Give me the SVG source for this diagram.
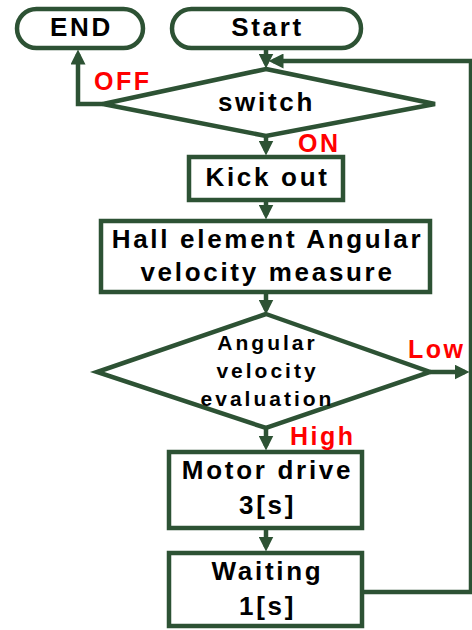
<svg xmlns="http://www.w3.org/2000/svg" width="472" height="630" viewBox="0 0 472 630">
<style>
.sh{fill:#fff;stroke:#2d5234;stroke-width:4.5}
.ln{fill:none;stroke:#2d5234;stroke-width:4.5}
.t{font-family:"Liberation Sans",Arial,sans-serif;font-weight:bold;font-size:26px;letter-spacing:2.7px;fill:#000;text-anchor:middle}
.s{font-size:21px;letter-spacing:3px}
.r{font-family:"Liberation Sans",Arial,sans-serif;font-weight:bold;font-size:25px;letter-spacing:2.5px;fill:#f00}
</style>
<defs>
<marker id="ah" viewBox="0 0 10 10" refX="7" refY="5" markerWidth="15" markerHeight="15" markerUnits="userSpaceOnUse" orient="auto">
<path d="M0,0 L10,5 L0,10 z" fill="#2d5234"/>
</marker>
</defs>
<g id="connectors">
<line class="ln" x1="266" y1="49" x2="266" y2="64" marker-end="url(#ah)"/>
<polyline class="ln" points="362,592 471,592 471,61 273,61" marker-end="url(#ah)"/>
<polyline class="ln" points="103,104 78,104 78,54" marker-end="url(#ah)"/>
<line class="ln" x1="266" y1="136" x2="266" y2="151" marker-end="url(#ah)"/>
<line class="ln" x1="266" y1="200" x2="266" y2="215" marker-end="url(#ah)"/>
<line class="ln" x1="266" y1="292" x2="266" y2="310" marker-end="url(#ah)"/>
<line class="ln" x1="266" y1="428" x2="266" y2="446" marker-end="url(#ah)"/>
<line class="ln" x1="266" y1="528" x2="266" y2="547" marker-end="url(#ah)"/>
<line class="ln" x1="430" y1="372" x2="465" y2="372" marker-end="url(#ah)"/>
</g>
<g id="end">
<rect class="sh" x="17" y="9" width="126" height="39" rx="19.5"/>
<text class="t" x="81.5" y="36">END</text>
</g>
<g id="start">
<rect class="sh" x="172" y="9" width="189" height="39" rx="19.5"/>
<text class="t" x="267.5" y="36">Start</text>
</g>
<g id="switch">
<polygon class="sh" points="266,69 435,104 266,136 103,104"/>
<text class="t" x="266.5" y="111">switch</text>
</g>
<g id="kickout">
<rect class="sh" x="189" y="157" width="154" height="43"/>
<text class="t" x="267.5" y="186">Kick out</text>
</g>
<g id="hall">
<rect class="sh" x="101" y="221" width="329" height="71"/>
<text class="t" x="267.5" y="248">Hall element Angular</text>
<text class="t" x="267.5" y="281">velocity measure</text>
</g>
<g id="evaluation">
<polygon class="sh" points="266,314 430,372 266,428 97,372"/>
<text class="t s" x="267.5" y="350">Angular</text>
<text class="t s" x="267.5" y="378">velocity</text>
<text class="t s" x="267.5" y="406">evaluation</text>
</g>
<g id="motor">
<rect class="sh" x="169" y="452" width="193" height="76"/>
<text class="t" x="267.5" y="479">Motor drive</text>
<text class="t" x="267.5" y="514">3[s]</text>
</g>
<g id="waiting">
<rect class="sh" x="169" y="553" width="193" height="73"/>
<text class="t" x="267.5" y="580">Waiting</text>
<text class="t" x="267.5" y="615">1[s]</text>
</g>
<g id="labels">
<text class="r" x="94" y="90">OFF</text>
<text class="r" x="298" y="152">ON</text>
<text class="r" x="408" y="358">Low</text>
<text class="r" x="290" y="445">High</text>
</g>
</svg>
